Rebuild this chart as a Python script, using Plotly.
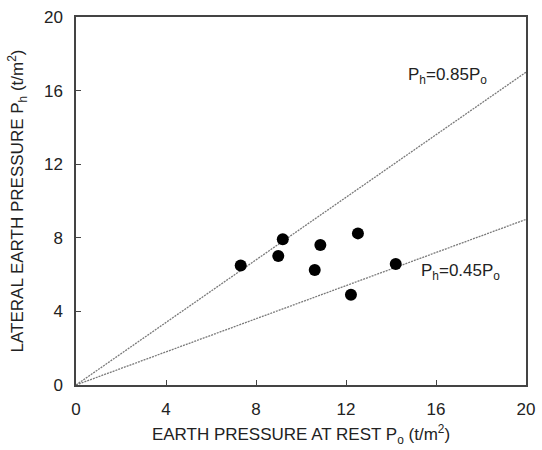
import plotly.graph_objects as go

po = [7.32, 9.19, 8.99, 10.86, 10.61, 12.53, 14.21, 12.22]
ph = [6.5, 7.92, 7.01, 7.61, 6.25, 8.24, 6.58, 4.91]
line_x = [0, 20]
ratios = [0.85, 0.45]
ticks = [0, 4, 8, 12, 16, 20]

FONT = "Liberation Sans, Arial, sans-serif"
fig = go.Figure()
for r in ratios:
    fig.add_trace(go.Scatter(x=line_x, y=[v * r for v in line_x], mode="lines",
                             line=dict(color="#7a7a7a", width=1.3, dash="2px,1px"),
                             hoverinfo="skip", showlegend=False))
fig.add_trace(go.Scatter(x=po, y=ph, mode="markers",
                         marker=dict(color="black", size=12), showlegend=False))

fig.add_annotation(x=14.67, y=16.8, text="P<sub>h</sub>=0.85P<sub>o</sub>", showarrow=False,
                   xanchor="left", yanchor="middle", font=dict(size=17, color="#222"))
fig.add_annotation(x=15.24, y=6.14, text="P<sub>h</sub>=0.45P<sub>o</sub>", showarrow=False,
                   xanchor="left", yanchor="middle", font=dict(size=17, color="#222"))

axis_common = dict(range=[0, 20], tickvals=ticks, ticks="inside", ticklen=5,
                   tickcolor="#444", showline=True, linecolor="#444", linewidth=1.5,
                   mirror=True, showgrid=False, zeroline=False, automargin=False,
                   ticklabelstandoff=8,
                   tickfont=dict(size=17, color="#222"))
fig.update_xaxes(**axis_common,
                 title=dict(text="EARTH PRESSURE AT REST P<sub>o</sub> (t/m<sup>2</sup>)",
                            font=dict(size=17, color="#222"), standoff=10))
fig.update_yaxes(**axis_common,
                 title=dict(text="LATERAL EARTH PRESSURE P<sub>h</sub> (t/m<sup>2</sup>)",
                            font=dict(size=17, color="#222"), standoff=16))
fig.update_layout(width=542, height=450,
                  margin=dict(l=76, r=16, t=17, b=65, autoexpand=False),
                  plot_bgcolor="white", paper_bgcolor="white",
                  font=dict(family=FONT, color="#222"))
fig.write_html("out.html", config={"displayModeBar": False},
               post_script="document.body.style.margin='0px';document.body.style.overflow='hidden';")
